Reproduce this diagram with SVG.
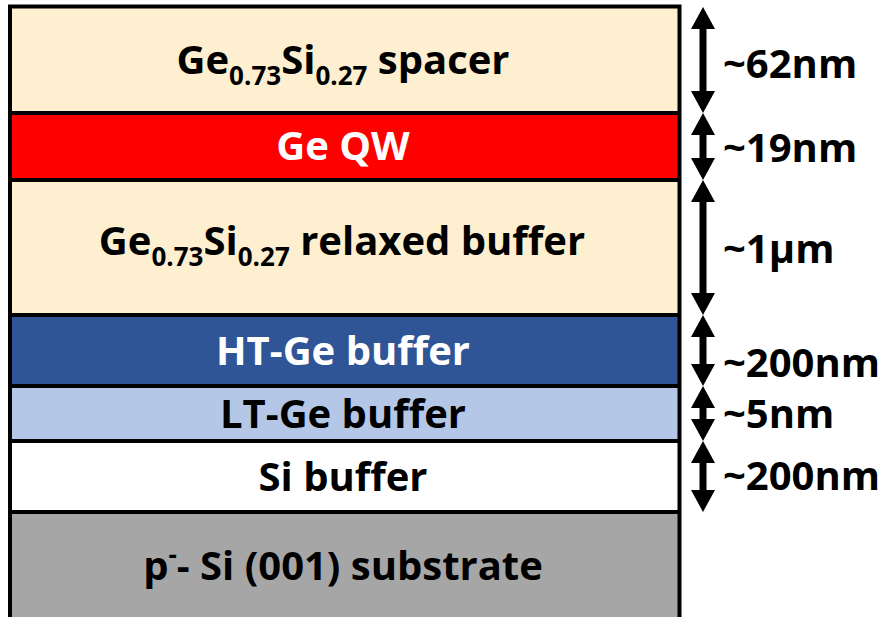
<svg xmlns="http://www.w3.org/2000/svg" width="886" height="617" viewBox="0 0 886 617">
<style>
  .lbl { font-family: "Open Sans", "Liberation Sans", sans-serif; font-weight: bold; font-size: 40px; text-anchor: middle; }
  .dim { font-family: "Open Sans", "Liberation Sans", sans-serif; font-weight: bold; font-size: 40px; fill: #000; }
  .sub { font-size: 26px; }
  .sep { stroke: #000; stroke-width: 4; }
  .shaft { stroke: #000; stroke-width: 7; }
</style>
<defs>
  <marker id="ah" viewBox="0 0 22 24" refX="0" refY="12" markerWidth="22" markerHeight="24" markerUnits="userSpaceOnUse" orient="auto-start-reverse">
    <path d="M0,0 L22,12 L0,24 Z" fill="#000"/>
  </marker>
</defs>
<rect width="886" height="617" fill="#fff"/>

<g id="layer-spacer">
  <rect x="10" y="6.5" width="669.5" height="106.5" fill="#FDEFD0"/>
  <text class="lbl" x="343" y="74">Ge<tspan class="sub" dy="11">0.73</tspan><tspan dy="-11">Si</tspan><tspan class="sub" dy="11">0.27</tspan><tspan dy="-11"> spacer</tspan></text>
</g>
<g id="layer-qw">
  <rect x="10" y="113" width="669.5" height="67" fill="#FF0000"/>
  <text class="lbl" x="343" y="160" fill="#fff">Ge QW</text>
</g>
<g id="layer-relaxed">
  <rect x="10" y="180" width="669.5" height="135" fill="#FDEFD0"/>
  <text class="lbl" x="342" y="255">Ge<tspan class="sub" dy="11">0.73</tspan><tspan dy="-11">Si</tspan><tspan class="sub" dy="11">0.27</tspan><tspan dy="-11"> relaxed buffer</tspan></text>
</g>
<g id="layer-ht">
  <rect x="10" y="315" width="669.5" height="71" fill="#2F5597"/>
  <text class="lbl" x="343" y="365" fill="#fff">HT-Ge buffer</text>
</g>
<g id="layer-lt">
  <rect x="10" y="386" width="669.5" height="55" fill="#B4C7E7"/>
  <text class="lbl" x="343" y="428">LT-Ge buffer</text>
</g>
<g id="layer-si">
  <rect x="10" y="441" width="669.5" height="71" fill="#FFFFFF"/>
  <text class="lbl" x="343" y="491">Si buffer</text>
</g>
<g id="layer-substrate">
  <rect x="10" y="512" width="669.5" height="110" fill="#A6A6A6"/>
  <text class="lbl" x="343" y="580">p<tspan class="sub" dy="-16">-</tspan><tspan dy="16">- Si (001) substrate</tspan></text>
</g>

<g id="frame">
  <line class="sep" x1="10" y1="113" x2="679.5" y2="113"/>
  <line class="sep" x1="10" y1="180" x2="679.5" y2="180"/>
  <line class="sep" x1="10" y1="315" x2="679.5" y2="315"/>
  <line class="sep" x1="10" y1="386" x2="679.5" y2="386"/>
  <line class="sep" x1="10" y1="441" x2="679.5" y2="441"/>
  <line class="sep" x1="10" y1="512" x2="679.5" y2="512"/>
  <path d="M10,622 L10,6.5 L679.5,6.5 L679.5,622" fill="none" stroke="#000" stroke-width="4"/>
</g>

<g id="connectors">
  <line class="shaft" x1="703" y1="29" x2="703" y2="91" marker-start="url(#ah)" marker-end="url(#ah)"/>
  <line class="shaft" x1="703" y1="135" x2="703" y2="158" marker-start="url(#ah)" marker-end="url(#ah)"/>
  <line class="shaft" x1="703" y1="202" x2="703" y2="293" marker-start="url(#ah)" marker-end="url(#ah)"/>
  <line class="shaft" x1="703" y1="337" x2="703" y2="364" marker-start="url(#ah)" marker-end="url(#ah)"/>
  <line class="shaft" x1="703" y1="408" x2="703" y2="419" marker-start="url(#ah)" marker-end="url(#ah)"/>
  <line class="shaft" x1="703" y1="463" x2="703" y2="490" marker-start="url(#ah)" marker-end="url(#ah)"/>
</g>

<g id="dimension-labels">
  <text class="dim" x="723" y="78">~62nm</text>
  <text class="dim" x="723" y="162">~19nm</text>
  <text class="dim" x="723" y="263">~1µm</text>
  <text class="dim" x="723" y="377">~200nm</text>
  <text class="dim" x="723" y="428">~5nm</text>
  <text class="dim" x="723" y="490">~200nm</text>
</g>
</svg>
